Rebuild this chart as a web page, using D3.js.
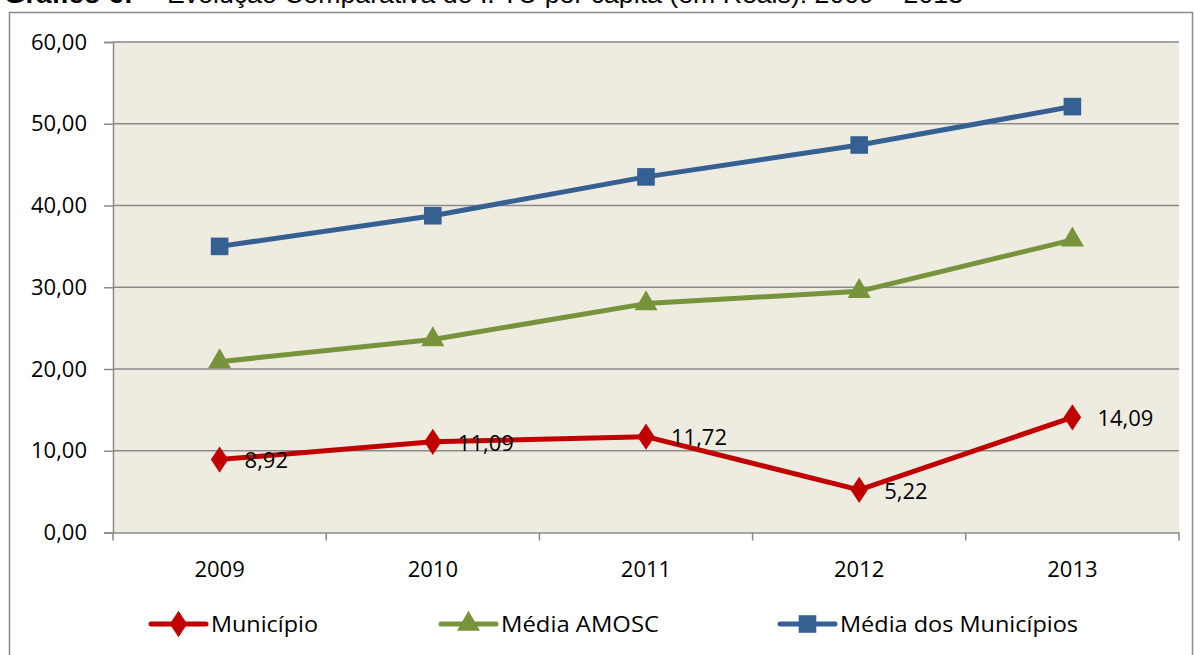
<!DOCTYPE html>
<html>
<head>
<meta charset="utf-8">
<script src="https://cdn.jsdelivr.net/npm/d3@7"></script>
<style>
body{margin:0;background:#fff;}
svg{display:block;}
</style>
</head>
<body>
<script>
var years=["2009","2010","2011","2012","2013"];
var municipio=[8.92,11.09,11.72,5.22,14.09];
var mediaAmosc=[20.9,23.6,28.0,29.5,35.8];
var mediaMunicipios=[35.0,38.75,43.5,47.4,52.1];
var yTicks=[0,10,20,30,40,50,60];
var seriesNames=["Município","Média AMOSC","Média dos Municípios"];

var width=1195;
var height=655;
var svg=d3.select("body")
    .append("svg")
    .attr("width",width)
    .attr("height",height);

var font="'Open Sans', sans-serif";
var padding={top:42, right:16, bottom:122, left:113};

// titulo cortado no topo (como na imagem)
var titleFont="'Liberation Sans', Arial, sans-serif";
svg.append("text")
    .attr("x",4)
    .attr("y",3)
    .attr("font-family",titleFont)
    .attr("font-size","26px")
    .attr("font-weight","bold")
    .attr("textLength",129)
    .attr("lengthAdjust","spacingAndGlyphs")
    .text("Gráfico 6:");
svg.append("text")
    .attr("x",143)
    .attr("y",3)
    .attr("font-family",titleFont)
    .attr("font-size","26px")
    .text("–");
svg.append("text")
    .attr("x",167)
    .attr("y",3)
    .attr("font-family",titleFont)
    .attr("font-size","26px")
    .attr("textLength",796)
    .attr("lengthAdjust","spacingAndGlyphs")
    .text("Evolução Comparativa do I. TU per capita (em Reais): 2009 – 2013");

// borda do grafico
svg.append("rect")
    .attr("x",9.5)
    .attr("y",12.5)
    .attr("width",1183)
    .attr("height",660)
    .attr("fill","#fff")
    .attr("stroke","#8c8c8c")
    .attr("stroke-width",1.5);

var x=d3.scaleBand()
    .domain(years)
    .range([padding.left,width-padding.right])
    .padding(0);
var y=d3.scaleLinear()
    .domain([0,60])
    .range([height-padding.bottom-0.5,padding.top]);

var x0=padding.left, x1=width-padding.right;

svg.append("rect")
    .attr("x",x0)
    .attr("y",y(60))
    .attr("width",x1-x0)
    .attr("height",y(0)-y(60))
    .attr("fill","#EEECE1");

// linhas de grade
svg.selectAll("line.grid")
    .data(yTicks.slice(1))
    .enter()
    .append("line")
    .attr("class","grid")
    .attr("x1",x0)
    .attr("x2",x1)
    .attr("y1",function(d){return y(d);})
    .attr("y2",function(d){return y(d);})
    .attr("stroke","#8a8a8a")
    .attr("stroke-width",1.5);

var fmt=function(d){return d3.format(".2f")(d).replace(".",",");};

var yAxis=svg.append("g")
    .attr("transform","translate("+x0+",0)")
    .call(d3.axisLeft(y).tickValues(yTicks).tickFormat(fmt).tickSize(9).tickPadding(17));
var xAxis=svg.append("g")
    .attr("transform","translate(0,"+y(0)+")")
    .call(d3.axisBottom(x).tickSize(0).tickPadding(29));

// ticks do eixo x nas bordas das categorias
var bounds=years.map(function(d){return x(d);}).concat([x1]);
xAxis.selectAll("line.b")
    .data(bounds)
    .enter()
    .append("line")
    .attr("class","b")
    .attr("x1",function(d){return d;})
    .attr("x2",function(d){return d;})
    .attr("y1",0)
    .attr("y2",8)
    .attr("stroke","#8a8a8a")
    .attr("stroke-width",1.5);

[yAxis,xAxis].forEach(function(a){
    a.select(".domain").attr("stroke","#8a8a8a").attr("stroke-width",1.5);
    a.selectAll(".tick line").attr("stroke","#8a8a8a").attr("stroke-width",1.5);
    a.selectAll("text").attr("font-family",font).attr("font-size","22px").attr("fill","#000");
});

var series=[
    {name:seriesNames[0],values:municipio,color:"#C00000",shape:d3.symbolDiamond,size:200,labels:true},
    {name:seriesNames[1],values:mediaAmosc,color:"#77933C",shape:d3.symbolTriangle,size:230,labels:false},
    {name:seriesNames[2],values:mediaMunicipios,color:"#376092",shape:d3.symbolSquare,size:310,labels:false}
];

var cx=function(i){return x(years[i])+x.bandwidth()/2;};
var line=d3.line()
    .x(function(d,i){return cx(i);})
    .y(function(d){return y(d);});

series.slice().reverse().forEach(function(s){
    svg.append("path")
        .attr("d",line(s.values))
        .attr("fill","none")
        .attr("stroke",s.color)
        .attr("stroke-width",5)
        .attr("stroke-linejoin","round");
    svg.selectAll(null)
        .data(s.values)
        .enter()
        .append("path")
        .attr("d",d3.symbol().type(s.shape).size(s.size))
        .attr("transform",function(d,i){
            var sx=s.shape===d3.symbolDiamond?"scale(1.15,1)":"";
            return "translate("+cx(i)+","+y(d)+")"+sx;
        })
        .attr("fill",s.color);
    if(s.labels){
        svg.selectAll(null)
            .data(s.values)
            .enter()
            .append("text")
            .attr("x",function(d,i){return cx(i)+25;})
            .attr("y",function(d){return y(d);})
            .attr("dy","0.4em")
            .attr("font-family",font)
            .attr("font-size","22px")
            .attr("fill","#000")
            .text(fmt);
    }
});

// legenda
var legX=[151,441,780];
var legW=[107,158,238];
var leg=svg.selectAll("g.leg")
    .data(series)
    .enter()
    .append("g")
    .attr("class","leg")
    .attr("transform",function(d,i){return "translate("+legX[i]+",624)";});
leg.append("line")
    .attr("x1",0).attr("x2",55)
    .attr("y1",0).attr("y2",0)
    .attr("stroke",function(d){return d.color;})
    .attr("stroke-width",5)
    .attr("stroke-linecap","round");
leg.append("path")
    .attr("d",function(d){return d3.symbol().type(d.shape).size(d.size)();})
    .attr("transform",function(d){return "translate(27.5,0)"+(d.shape===d3.symbolDiamond?"scale(1.15,1)":"");})
    .attr("fill",function(d){return d.color;});
leg.append("text")
    .attr("x",60)
    .attr("y",0)
    .attr("dy","0.36em")
    .attr("font-family",font)
    .attr("font-size","22px")
    .attr("textLength",function(d,i){return legW[i];})
    .attr("lengthAdjust","spacingAndGlyphs")
    .attr("fill","#000")
    .text(function(d){return d.name;});
</script>
</body>
</html>
